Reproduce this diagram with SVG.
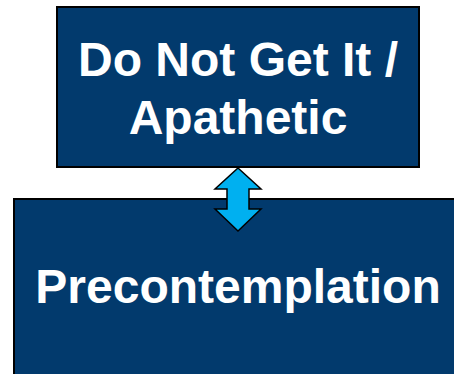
<svg xmlns="http://www.w3.org/2000/svg" width="454" height="374" viewBox="0 0 454 374">
<style>
.box{fill:#023A6D;stroke:#000;stroke-width:2}
.lbl{font-family:"Liberation Sans",Arial,sans-serif;font-weight:bold;font-size:48px;fill:#fff;text-anchor:middle}
.arr{fill:#00B0F0;stroke:#000;stroke-width:1.5;stroke-linejoin:miter}
</style>
<rect width="454" height="374" fill="#fff"/>
<g id="node-top">
<rect class="box" x="57" y="7" width="362" height="160"/>
<text class="lbl" x="238" y="76">Do Not Get It /</text>
<text class="lbl" x="238" y="134">Apathetic</text>
</g>
<g id="node-bottom">
<rect class="box" x="14" y="199" width="450" height="190"/>
<text class="lbl" x="238" y="303">Precontemplation</text>
</g>
<g id="connectors">
<path class="arr" d="M238 168 L261 189 L249 189 L249 209 L261 209 L238 231 L215 209 L227 209 L227 189 L215 189 Z"/>
</g>
</svg>
